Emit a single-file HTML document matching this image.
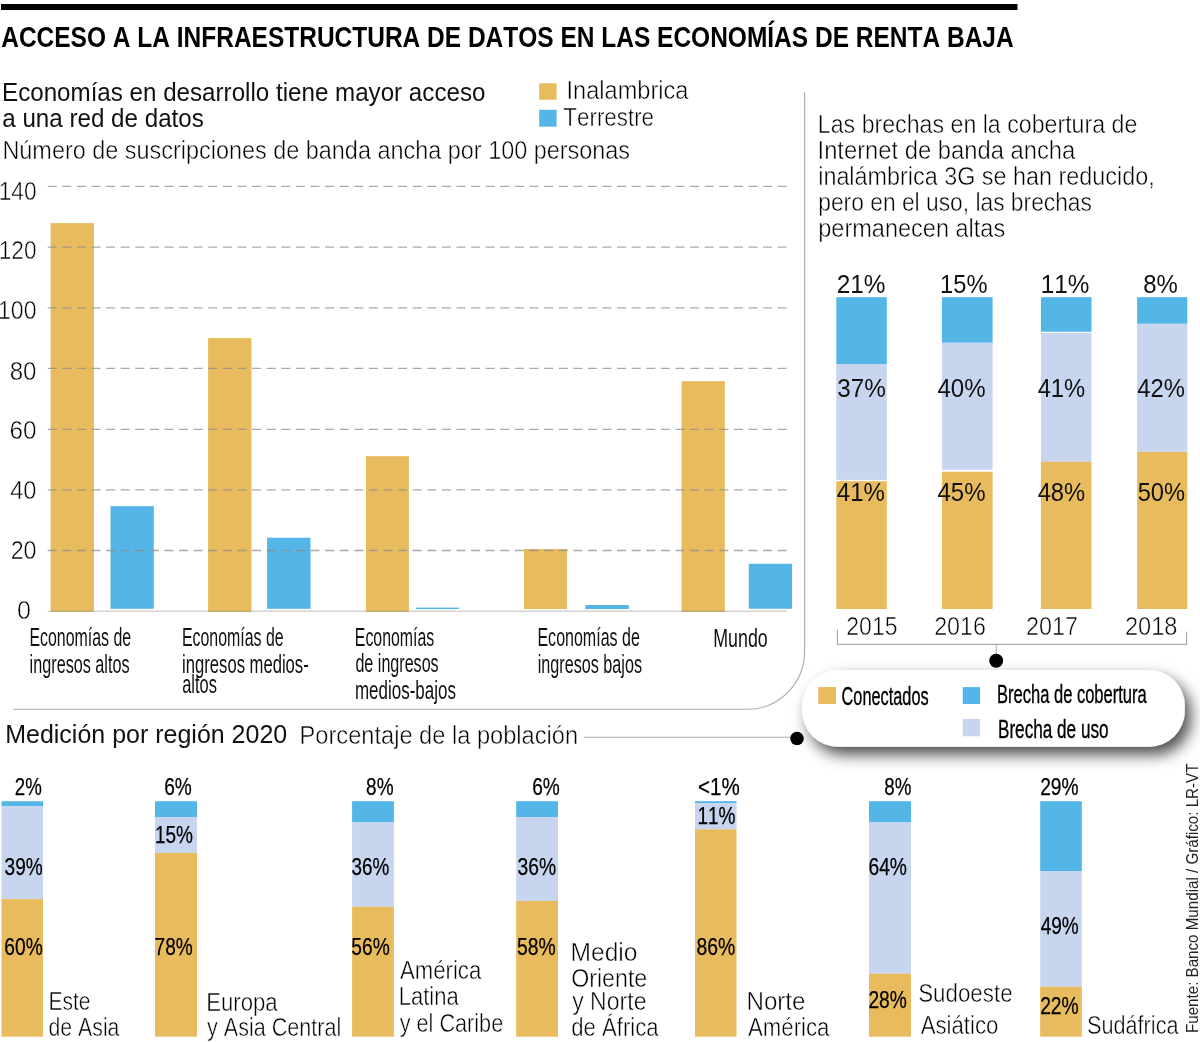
<!DOCTYPE html>
<html><head><meta charset="utf-8"><title>Acceso a la infraestructura de datos</title>
<style>
html,body{margin:0;padding:0;background:#fff;}
svg{display:block;}
text{font-family:"Liberation Sans",sans-serif;font-kerning:none;font-variant-ligatures:none;}
.b{font-weight:bold;fill:#000;}
.s{fill:#111;stroke:#111;stroke-width:0.45px;}
.r{fill:#111;}
.l{fill:#000;stroke:#fff;stroke-width:0.5px;}
.l2{fill:#222;}
.c{fill:#111;}
.c2{fill:#000;stroke:#000;stroke-width:0.25px;}
.sc{fill:#000;stroke:#000;stroke-width:0.35px;}
</style></head><body>
<svg width="1200" height="1042" viewBox="0 0 1200 1042">
<defs><filter id="sh" x="-15%" y="-60%" width="135%" height="230%">
<feDropShadow dx="6" dy="8" stdDeviation="7.5" flood-color="#000" flood-opacity="0.7"/></filter></defs>
<rect width="1200" height="1042" fill="#fff"/>
<rect x="1.00" y="4.00" width="1016.50" height="6.00" fill="#000"/>
<rect x="539.20" y="83.25" width="17.40" height="16.50" fill="#E8BB5E"/>
<rect x="539.20" y="109.80" width="17.40" height="16.90" fill="#53B6E7"/>
<rect x="50.60" y="223.10" width="43.30" height="388.50" fill="#E8BB5E"/>
<rect x="208.10" y="338.10" width="43.40" height="273.50" fill="#E8BB5E"/>
<rect x="366.00" y="456.20" width="42.90" height="155.40" fill="#E8BB5E"/>
<rect x="524.00" y="549.00" width="43.00" height="60.00" fill="#E8BB5E"/>
<rect x="681.50" y="381.20" width="43.30" height="230.40" fill="#E8BB5E"/>
<rect x="110.50" y="506.20" width="43.30" height="102.60" fill="#53B6E7"/>
<rect x="267.10" y="537.70" width="43.40" height="71.10" fill="#53B6E7"/>
<rect x="416.00" y="607.60" width="43.20" height="1.40" fill="#53B6E7"/>
<rect x="585.40" y="605.00" width="43.40" height="4.00" fill="#53B6E7"/>
<rect x="748.75" y="563.75" width="43.35" height="45.00" fill="#53B6E7"/>
<line x1="47.7" y1="186.4" x2="786.6" y2="186.4" stroke="#8f8f8f" stroke-width="1.3" stroke-dasharray="9 5.6" opacity="0.76"/>
<line x1="47.7" y1="247.1" x2="786.6" y2="247.1" stroke="#8f8f8f" stroke-width="1.3" stroke-dasharray="9 5.6" opacity="0.76"/>
<line x1="47.7" y1="307.8" x2="786.6" y2="307.8" stroke="#8f8f8f" stroke-width="1.3" stroke-dasharray="9 5.6" opacity="0.76"/>
<line x1="47.7" y1="368.4" x2="786.6" y2="368.4" stroke="#8f8f8f" stroke-width="1.3" stroke-dasharray="9 5.6" opacity="0.76"/>
<line x1="47.7" y1="429.4" x2="786.6" y2="429.4" stroke="#8f8f8f" stroke-width="1.3" stroke-dasharray="9 5.6" opacity="0.76"/>
<line x1="47.7" y1="489.8" x2="786.6" y2="489.8" stroke="#8f8f8f" stroke-width="1.3" stroke-dasharray="9 5.6" opacity="0.76"/>
<line x1="47.7" y1="550.5" x2="786.6" y2="550.5" stroke="#8f8f8f" stroke-width="1.3" stroke-dasharray="9 5.6" opacity="0.76"/>
<line x1="47.7" y1="611.2" x2="786.6" y2="611.2" stroke="#d3d3d3" stroke-width="1.5" style="mix-blend-mode:multiply"/>
<path d="M13 709.2 H748 A56.6 58.2 0 0 0 804.6 651 V91.9" fill="none" stroke="#aaaaaa" stroke-width="1.1"/>
<rect x="836.30" y="297.20" width="50.50" height="66.80" fill="#53B6E7"/>
<rect x="836.30" y="364.00" width="50.50" height="115.90" fill="#C7D5EE"/>
<rect x="836.30" y="481.20" width="50.50" height="127.80" fill="#E8BB5E"/>
<rect x="941.90" y="297.20" width="50.70" height="45.60" fill="#53B6E7"/>
<rect x="941.90" y="342.80" width="50.70" height="127.00" fill="#C7D5EE"/>
<rect x="941.90" y="471.70" width="50.70" height="137.30" fill="#E8BB5E"/>
<rect x="1040.90" y="297.20" width="50.60" height="34.50" fill="#53B6E7"/>
<rect x="1040.90" y="332.80" width="50.60" height="129.00" fill="#C7D5EE"/>
<rect x="1040.90" y="461.80" width="50.60" height="147.20" fill="#E8BB5E"/>
<rect x="1137.10" y="297.20" width="50.20" height="26.60" fill="#53B6E7"/>
<rect x="1137.10" y="323.80" width="50.20" height="128.10" fill="#C7D5EE"/>
<rect x="1137.10" y="451.90" width="50.20" height="157.10" fill="#E8BB5E"/>
<path d="M837.4 629.4 V644.4 H1186.5 V631.5 M996.2 644.4 V656" fill="none" stroke="#aaaaaa" stroke-width="1.1"/>
<circle cx="996.2" cy="660.7" r="7" fill="#000"/>
<line x1="583.8" y1="737.3" x2="797" y2="737.3" stroke="#aaaaaa" stroke-width="1.1"/>
<rect x="1.50" y="801.20" width="41.50" height="4.80" fill="#53B6E7"/>
<rect x="1.50" y="806.00" width="41.50" height="93.10" fill="#C7D5EE"/>
<rect x="1.50" y="899.10" width="41.50" height="137.60" fill="#E8BB5E"/>
<rect x="155.00" y="801.20" width="42.00" height="15.80" fill="#53B6E7"/>
<rect x="155.00" y="817.00" width="42.00" height="36.00" fill="#C7D5EE"/>
<rect x="155.00" y="853.00" width="42.00" height="183.70" fill="#E8BB5E"/>
<rect x="352.10" y="801.20" width="41.80" height="21.20" fill="#53B6E7"/>
<rect x="352.10" y="822.40" width="41.80" height="84.40" fill="#C7D5EE"/>
<rect x="352.10" y="906.80" width="41.80" height="129.90" fill="#E8BB5E"/>
<rect x="516.20" y="801.20" width="41.80" height="15.80" fill="#53B6E7"/>
<rect x="516.20" y="817.00" width="41.80" height="84.00" fill="#C7D5EE"/>
<rect x="516.20" y="901.00" width="41.80" height="135.70" fill="#E8BB5E"/>
<rect x="695.00" y="801.20" width="41.50" height="1.90" fill="#53B6E7"/>
<rect x="695.00" y="803.10" width="41.50" height="26.20" fill="#C7D5EE"/>
<rect x="695.00" y="829.30" width="41.50" height="207.40" fill="#E8BB5E"/>
<rect x="869.00" y="801.20" width="42.00" height="21.20" fill="#53B6E7"/>
<rect x="869.00" y="822.40" width="42.00" height="151.30" fill="#C7D5EE"/>
<rect x="869.00" y="973.70" width="42.00" height="63.00" fill="#E8BB5E"/>
<rect x="1040.20" y="801.20" width="41.60" height="69.80" fill="#53B6E7"/>
<rect x="1040.20" y="871.00" width="41.60" height="115.70" fill="#C7D5EE"/>
<rect x="1040.20" y="986.70" width="41.60" height="50.00" fill="#E8BB5E"/>
<text x="1.19" y="46.50" font-size="28.63" textLength="1012.46" lengthAdjust="spacingAndGlyphs" class="b">ACCESO A LA INFRAESTRUCTURA DE DATOS EN LAS ECONOMÍAS DE RENTA BAJA</text>
<text x="2.02" y="100.70" font-size="25.30" textLength="483.40" lengthAdjust="spacingAndGlyphs" class="r">Economías en desarrollo tiene mayor acceso</text>
<text x="2.27" y="127.10" font-size="25.30" textLength="201.60" lengthAdjust="spacingAndGlyphs" class="r">a una red de datos</text>
<text x="2.43" y="158.85" font-size="26.41" textLength="627.67" lengthAdjust="spacingAndGlyphs" class="l">Número de suscripciones de banda ancha por 100 personas</text>
<text x="566.47" y="99.00" font-size="25.90" textLength="121.98" lengthAdjust="spacingAndGlyphs" class="l">Inalambrica</text>
<text x="563.35" y="125.75" font-size="26.03" textLength="90.70" lengthAdjust="spacingAndGlyphs" class="l">Terrestre</text>
<text x="-1.28" y="199.85" font-size="25.43" textLength="37.81" lengthAdjust="spacingAndGlyphs" class="l">140</text>
<text x="-1.28" y="259.45" font-size="25.43" textLength="37.81" lengthAdjust="spacingAndGlyphs" class="l">120</text>
<text x="-2.01" y="319.15" font-size="25.43" textLength="38.46" lengthAdjust="spacingAndGlyphs" class="l">100</text>
<text x="9.70" y="379.65" font-size="25.43" textLength="26.79" lengthAdjust="spacingAndGlyphs" class="l">80</text>
<text x="9.52" y="439.25" font-size="25.43" textLength="26.98" lengthAdjust="spacingAndGlyphs" class="l">60</text>
<text x="10.21" y="499.45" font-size="25.43" textLength="26.26" lengthAdjust="spacingAndGlyphs" class="l">40</text>
<text x="10.68" y="559.05" font-size="25.43" textLength="25.88" lengthAdjust="spacingAndGlyphs" class="l">20</text>
<text x="17.07" y="618.75" font-size="25.43" textLength="13.96" lengthAdjust="spacingAndGlyphs" class="l">0</text>
<text x="29.39" y="645.90" font-size="25.43" textLength="101.71" lengthAdjust="spacingAndGlyphs" class="c">Economías de</text>
<text x="29.62" y="673.00" font-size="25.43" textLength="99.97" lengthAdjust="spacingAndGlyphs" class="c">ingresos altos</text>
<text x="181.89" y="645.70" font-size="25.43" textLength="101.71" lengthAdjust="spacingAndGlyphs" class="c">Economías de</text>
<text x="182.09" y="672.50" font-size="25.43" textLength="126.65" lengthAdjust="spacingAndGlyphs" class="c">ingresos medios-</text>
<text x="182.20" y="692.90" font-size="25.43" textLength="34.79" lengthAdjust="spacingAndGlyphs" class="c">altos</text>
<text x="354.80" y="645.70" font-size="25.43" textLength="79.48" lengthAdjust="spacingAndGlyphs" class="c">Economías</text>
<text x="355.42" y="671.90" font-size="25.43" textLength="83.26" lengthAdjust="spacingAndGlyphs" class="c">de ingresos</text>
<text x="354.97" y="698.75" font-size="25.43" textLength="100.94" lengthAdjust="spacingAndGlyphs" class="c">medios-bajos</text>
<text x="537.44" y="645.90" font-size="25.43" textLength="102.38" lengthAdjust="spacingAndGlyphs" class="c">Economías de</text>
<text x="537.67" y="672.50" font-size="25.43" textLength="104.32" lengthAdjust="spacingAndGlyphs" class="c">ingresos bajos</text>
<text x="713.24" y="647.40" font-size="25.43" textLength="54.51" lengthAdjust="spacingAndGlyphs" class="c">Mundo</text>
<text x="817.85" y="132.95" font-size="26.13" textLength="319.43" lengthAdjust="spacingAndGlyphs" class="l">Las brechas en la cobertura de</text>
<text x="817.56" y="158.95" font-size="26.13" textLength="257.69" lengthAdjust="spacingAndGlyphs" class="l">Internet de banda ancha</text>
<text x="818.19" y="185.05" font-size="26.13" textLength="336.46" lengthAdjust="spacingAndGlyphs" class="l">inalámbrica 3G se han reducido,</text>
<text x="818.28" y="211.20" font-size="26.13" textLength="273.69" lengthAdjust="spacingAndGlyphs" class="l">pero en el uso, las brechas</text>
<text x="818.23" y="237.45" font-size="26.13" textLength="186.97" lengthAdjust="spacingAndGlyphs" class="l">permanecen altas</text>
<text x="836.67" y="293.00" font-size="24.86" textLength="48.80" lengthAdjust="spacingAndGlyphs" class="r">21%</text>
<text x="940.10" y="293.00" font-size="24.86" textLength="47.35" lengthAdjust="spacingAndGlyphs" class="r">15%</text>
<text x="1040.65" y="293.00" font-size="24.86" textLength="48.62" lengthAdjust="spacingAndGlyphs" class="r">11%</text>
<text x="1143.26" y="293.00" font-size="24.86" textLength="34.59" lengthAdjust="spacingAndGlyphs" class="r">8%</text>
<text x="837.28" y="396.70" font-size="24.86" textLength="48.59" lengthAdjust="spacingAndGlyphs" class="r">37%</text>
<text x="937.45" y="396.70" font-size="24.86" textLength="48.11" lengthAdjust="spacingAndGlyphs" class="r">40%</text>
<text x="1037.65" y="396.70" font-size="24.86" textLength="47.59" lengthAdjust="spacingAndGlyphs" class="r">41%</text>
<text x="1137.35" y="396.70" font-size="24.86" textLength="47.70" lengthAdjust="spacingAndGlyphs" class="r">42%</text>
<text x="836.85" y="500.70" font-size="24.86" textLength="48.11" lengthAdjust="spacingAndGlyphs" class="r">41%</text>
<text x="937.45" y="500.70" font-size="24.86" textLength="48.11" lengthAdjust="spacingAndGlyphs" class="r">45%</text>
<text x="1037.65" y="500.70" font-size="24.86" textLength="47.59" lengthAdjust="spacingAndGlyphs" class="r">48%</text>
<text x="1137.65" y="500.70" font-size="24.86" textLength="47.39" lengthAdjust="spacingAndGlyphs" class="r">50%</text>
<text x="846.29" y="635.35" font-size="25.14" textLength="51.23" lengthAdjust="spacingAndGlyphs" class="l">2015</text>
<text x="934.18" y="635.35" font-size="25.14" textLength="51.79" lengthAdjust="spacingAndGlyphs" class="l">2016</text>
<text x="1025.98" y="635.35" font-size="25.14" textLength="51.95" lengthAdjust="spacingAndGlyphs" class="l">2017</text>
<text x="1124.96" y="635.35" font-size="25.14" textLength="52.51" lengthAdjust="spacingAndGlyphs" class="l">2018</text>
<text x="5.20" y="742.50" font-size="25.54" textLength="282.03" lengthAdjust="spacingAndGlyphs" class="r">Medición por región 2020</text>
<text x="299.61" y="744.15" font-size="25.83" textLength="278.42" lengthAdjust="spacingAndGlyphs" class="l">Porcentaje de la población</text>
<text x="14.79" y="794.88" font-size="23.64" textLength="26.95" lengthAdjust="spacingAndGlyphs" class="c2">2%</text>
<text x="164.16" y="794.88" font-size="23.64" textLength="27.60" lengthAdjust="spacingAndGlyphs" class="c2">6%</text>
<text x="366.10" y="794.88" font-size="23.64" textLength="27.45" lengthAdjust="spacingAndGlyphs" class="c2">8%</text>
<text x="532.26" y="794.88" font-size="23.64" textLength="27.60" lengthAdjust="spacingAndGlyphs" class="c2">6%</text>
<text x="698.11" y="794.88" font-size="23.64" textLength="41.70" lengthAdjust="spacingAndGlyphs" class="c2">&lt;1%</text>
<text x="884.31" y="794.88" font-size="23.64" textLength="27.14" lengthAdjust="spacingAndGlyphs" class="c2">8%</text>
<text x="1040.16" y="794.88" font-size="23.64" textLength="38.40" lengthAdjust="spacingAndGlyphs" class="c2">29%</text>
<text x="4.60" y="874.67" font-size="23.64" textLength="38.16" lengthAdjust="spacingAndGlyphs" class="c2">39%</text>
<text x="4.35" y="955.08" font-size="23.64" textLength="38.41" lengthAdjust="spacingAndGlyphs" class="c2">60%</text>
<text x="154.88" y="843.48" font-size="23.64" textLength="38.08" lengthAdjust="spacingAndGlyphs" class="c2">15%</text>
<text x="154.55" y="954.98" font-size="23.64" textLength="38.21" lengthAdjust="spacingAndGlyphs" class="c2">78%</text>
<text x="351.51" y="874.67" font-size="23.64" textLength="37.74" lengthAdjust="spacingAndGlyphs" class="c2">36%</text>
<text x="351.36" y="955.12" font-size="23.64" textLength="38.40" lengthAdjust="spacingAndGlyphs" class="c2">56%</text>
<text x="517.49" y="874.67" font-size="23.64" textLength="38.57" lengthAdjust="spacingAndGlyphs" class="c2">36%</text>
<text x="517.10" y="955.12" font-size="23.64" textLength="38.71" lengthAdjust="spacingAndGlyphs" class="c2">58%</text>
<text x="697.38" y="824.48" font-size="23.64" textLength="38.08" lengthAdjust="spacingAndGlyphs" class="c2">11%</text>
<text x="696.53" y="955.12" font-size="23.64" textLength="38.78" lengthAdjust="spacingAndGlyphs" class="c2">86%</text>
<text x="868.45" y="874.67" font-size="23.64" textLength="38.51" lengthAdjust="spacingAndGlyphs" class="c2">64%</text>
<text x="868.41" y="1007.62" font-size="23.64" textLength="38.45" lengthAdjust="spacingAndGlyphs" class="c2">28%</text>
<text x="1040.69" y="934.08" font-size="23.64" textLength="38.06" lengthAdjust="spacingAndGlyphs" class="c2">49%</text>
<text x="1040.15" y="1013.88" font-size="23.64" textLength="38.61" lengthAdjust="spacingAndGlyphs" class="c2">22%</text>
<text x="48.43" y="1010.35" font-size="25.89" textLength="42.06" lengthAdjust="spacingAndGlyphs" class="l">Este</text>
<text x="48.56" y="1036.25" font-size="25.89" textLength="70.89" lengthAdjust="spacingAndGlyphs" class="l">de Asia</text>
<text x="206.18" y="1010.55" font-size="25.89" textLength="71.47" lengthAdjust="spacingAndGlyphs" class="l">Europa</text>
<text x="207.10" y="1036.25" font-size="25.89" textLength="134.09" lengthAdjust="spacingAndGlyphs" class="l">y Asia Central</text>
<text x="400.01" y="979.45" font-size="25.89" textLength="81.24" lengthAdjust="spacingAndGlyphs" class="l">América</text>
<text x="398.69" y="1005.40" font-size="25.89" textLength="60.06" lengthAdjust="spacingAndGlyphs" class="l">Latina</text>
<text x="399.70" y="1031.65" font-size="25.89" textLength="103.52" lengthAdjust="spacingAndGlyphs" class="l">y el Caribe</text>
<text x="570.53" y="961.15" font-size="25.89" textLength="67.00" lengthAdjust="spacingAndGlyphs" class="l">Medio</text>
<text x="571.15" y="986.65" font-size="25.89" textLength="76.13" lengthAdjust="spacingAndGlyphs" class="l">Oriente</text>
<text x="572.19" y="1010.15" font-size="25.89" textLength="74.33" lengthAdjust="spacingAndGlyphs" class="l">y Norte</text>
<text x="571.32" y="1036.15" font-size="25.89" textLength="87.23" lengthAdjust="spacingAndGlyphs" class="l">de África</text>
<text x="746.47" y="1009.95" font-size="25.89" textLength="59.05" lengthAdjust="spacingAndGlyphs" class="l">Norte</text>
<text x="747.96" y="1036.45" font-size="25.89" textLength="81.54" lengthAdjust="spacingAndGlyphs" class="l">América</text>
<text x="918.24" y="1002.05" font-size="25.89" textLength="94.31" lengthAdjust="spacingAndGlyphs" class="l">Sudoeste</text>
<text x="920.71" y="1033.55" font-size="25.89" textLength="77.67" lengthAdjust="spacingAndGlyphs" class="l">Asiático</text>
<text x="1087.02" y="1034.15" font-size="25.89" textLength="91.48" lengthAdjust="spacingAndGlyphs" class="l">Sudáfrica</text>
<rect x="802.2" y="669.9" width="382.6" height="76.8" rx="36" ry="36" fill="#fff" filter="url(#sh)"/>
<rect x="818.25" y="687.00" width="17.75" height="17.00" fill="#E8BB5E"/>
<rect x="962.75" y="687.10" width="17.35" height="16.90" fill="#53B6E7"/>
<rect x="962.75" y="719.00" width="17.35" height="17.30" fill="#C7D5EE"/>
<circle cx="797" cy="738.5" r="6.8" fill="#000"/>
<text x="841.60" y="704.73" font-size="25.02" textLength="87.02" lengthAdjust="spacingAndGlyphs" class="sc">Conectados</text>
<text x="997.02" y="703.43" font-size="25.02" textLength="149.71" lengthAdjust="spacingAndGlyphs" class="sc">Brecha de cobertura</text>
<text x="997.97" y="737.83" font-size="25.02" textLength="110.58" lengthAdjust="spacingAndGlyphs" class="sc">Brecha de uso</text>
<text transform="translate(1197.7,1031.8) rotate(-90)" x="-1.24" y="0.00" font-size="16.25" textLength="269.49" lengthAdjust="spacingAndGlyphs" class="l2">Fuente: Banco Mundial / Gráfico: LR-VT</text>
</svg>
</body></html>
